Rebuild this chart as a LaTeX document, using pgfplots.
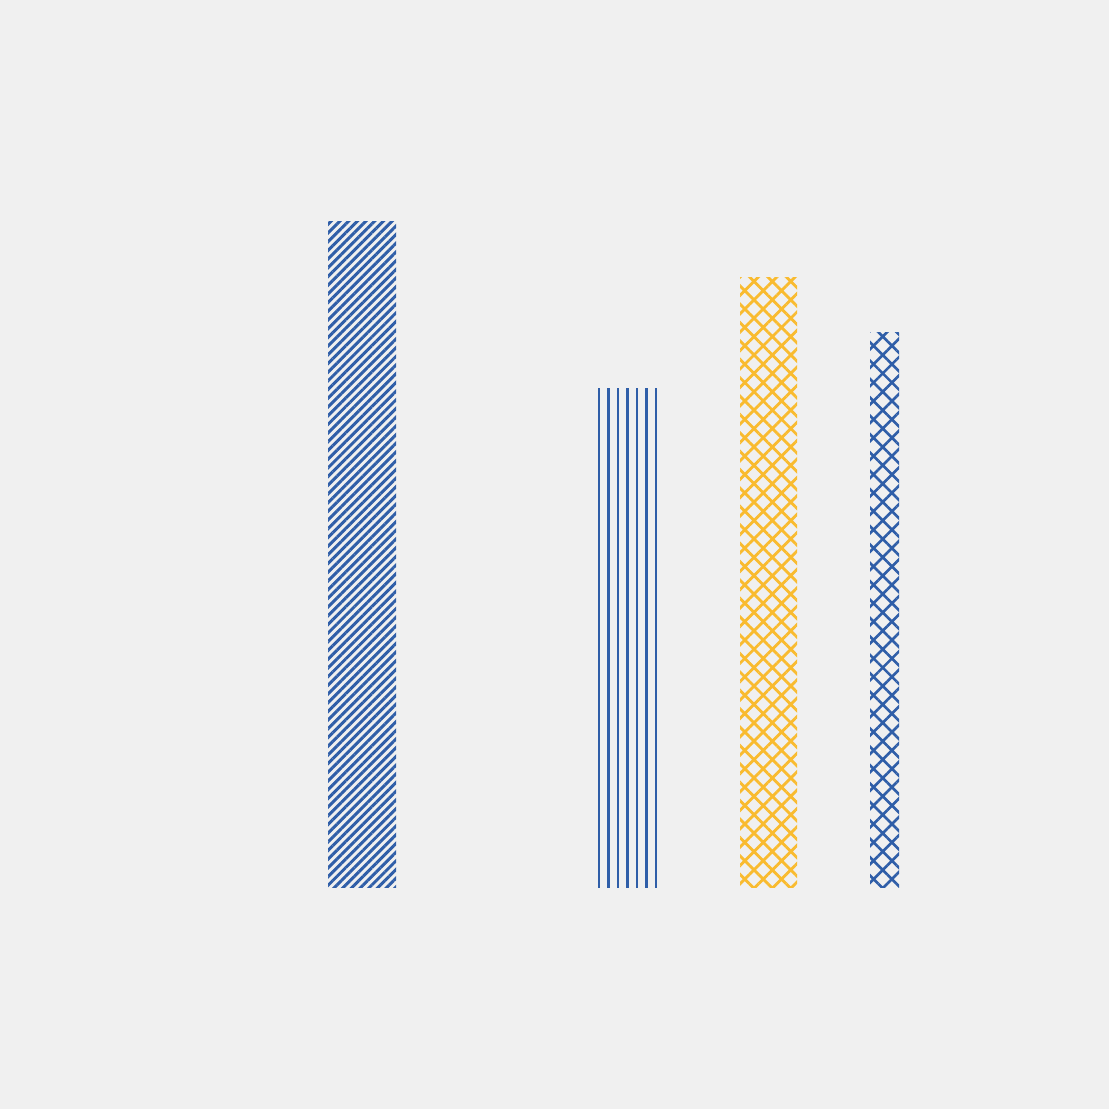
\documentclass[border=0pt]{standalone}
\usepackage{pgfplots}
\pgfplotsset{compat=1.18}
\usetikzlibrary{patterns.meta}
\definecolor{bgcolor}{RGB}{240,240,240}
\definecolor{hblue}{RGB}{47,94,168}
\definecolor{hyellow}{RGB}{249,187,47}

\begin{document}
\begin{tikzpicture}
% page background, 1px = 0.01cm
\fill[bgcolor] (0,0) rectangle (11.09cm,11.09cm);
\begin{axis}[
    at={(0,0)}, anchor=south west,
    scale only axis,
    width=11.09cm, height=11.09cm,
    xmin=0, xmax=1109,
    ymin=-4, ymax=16,
    hide axis,
    clip=false,
    ybar, bar shift=0pt,
]

% bar 1: diagonal lines
\addplot[draw=none, bar width=68,
    pattern={Lines[angle=45, distance=1.75pt, line width=0.85pt]},
    pattern color=hblue]
    coordinates {(362, 12)};

% bar 2: vertical lines
\addplot[draw=none, bar width=59,
    pattern={Lines[angle=90, distance=2.7pt, line width=0.7pt, xshift=0.35pt]},
    pattern color=hblue]
    coordinates {(627.5, 9)};

% bar 3: crosshatch (yellow)
\addplot[draw=none, bar width=57,
    pattern={Hatch[angle=45, distance=3.7pt, line width=0.8pt]},
    pattern color=hyellow]
    coordinates {(768.5, 11)};

% bar 4: crosshatch (blue)
\addplot[draw=none, bar width=29,
    pattern={Hatch[angle=45, distance=3.7pt, line width=0.75pt]},
    pattern color=hblue]
    coordinates {(884.5, 10)};

\end{axis}
\end{tikzpicture}
\end{document}
